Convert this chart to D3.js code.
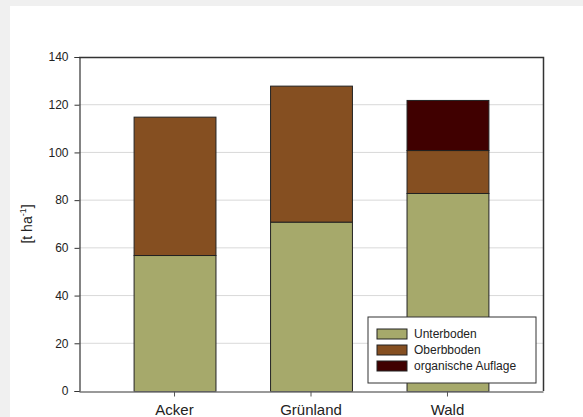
<!DOCTYPE html>
<html>
<head>
<meta charset="utf-8">
<script src="https://cdn.jsdelivr.net/npm/d3@7"></script>
<style>
  body { margin: 0; background: #f0f0f0; }
  svg { display: block; }
</style>
</head>
<body>
<svg id="chart"></svg>
<script>
let width = 583, height = 417;

// data
let categories = ["Acker", "Grünland", "Wald"];
let layers = ["Unterboden", "Oberbboden", "organische Auflage"];
let unterboden = [57, 71, 83];
let oberboden = [58, 57, 18];
let auflage = [0, 0, 21];
let yTicks = [0, 20, 40, 60, 80, 100, 120, 140];

let colors = ["#a6a96b", "#854f21", "#400000"];

let plot = {left: 79, right: 543, top: 57, bottom: 391};

let svg = d3.select("#chart")
  .attr("width", width)
  .attr("height", height)
  .style("font-family", "'Liberation Sans', Arial, sans-serif");

// white panel on grey page
svg.append("rect")
  .attr("x", 10).attr("y", 6)
  .attr("width", width - 10).attr("height", height - 6)
  .attr("fill", "#fff");

let x = d3.scaleBand()
  .domain(categories)
  .range([plot.left, plot.right])
  .paddingInner(0.4)
  .paddingOuter(0.4);

let y = d3.scaleLinear()
  .domain([0, 140])
  .range([plot.bottom, plot.top]);

// grid
svg.append("g")
  .selectAll("line")
  .data(yTicks.filter(d => d > 0 && d < 140))
  .join("line")
  .attr("x1", plot.left).attr("x2", plot.right)
  .attr("y1", d => y(d)).attr("y2", d => y(d))
  .attr("stroke", "#d9d9d9")
  .attr("stroke-width", 1);

// stacked bars
let table = categories.map((c, i) => ({
  cat: c,
  "Unterboden": unterboden[i],
  "Oberbboden": oberboden[i],
  "organische Auflage": auflage[i]
}));
let series = d3.stack().keys(layers)(table);

svg.append("g")
  .selectAll("g")
  .data(series)
  .join("g")
  .attr("fill", (d, i) => colors[i])
  .selectAll("rect")
  .data(d => d.filter(p => p[1] > p[0]))
  .join("rect")
  .attr("x", d => x(d.data.cat) + 0.5)
  .attr("y", d => y(d[1]) + 0.5)
  .attr("width", x.bandwidth())
  .attr("height", d => y(d[0]) - y(d[1]))
  .attr("stroke", "#222")
  .attr("stroke-width", 1);

// frame: top and right
svg.append("path")
  .attr("d", `M${plot.left},${plot.top + 0.5}H${plot.right + 0.5}V${plot.bottom}`)
  .attr("fill", "none")
  .attr("stroke", "#333")
  .attr("stroke-width", 1.5);

// y axis
let yAxis = svg.append("g")
  .attr("transform", `translate(${plot.left + 0.5},0)`)
  .call(d3.axisLeft(y).tickValues(yTicks).tickSize(5).tickPadding(6));
yAxis.select(".domain").attr("stroke", "#333").attr("stroke-width", 1.2);
yAxis.selectAll(".tick line").attr("stroke", "#333");
yAxis.selectAll("text")
  .attr("font-size", 12)
  .attr("font-family", "'Liberation Sans', Arial, sans-serif")
  .attr("fill", "#222");

// x axis
let xAxis = svg.append("g")
  .attr("transform", `translate(0,${plot.bottom + 0.5})`)
  .call(d3.axisBottom(x).tickSize(5).tickSizeOuter(0).tickPadding(8));
xAxis.select(".domain").attr("stroke", "#777").attr("stroke-width", 1.5);
xAxis.selectAll(".tick line").attr("stroke", "#555");
xAxis.selectAll("text")
  .attr("font-size", 15)
  .attr("font-family", "'Liberation Sans', Arial, sans-serif")
  .attr("fill", "#222");

// y label
let ylab = svg.append("text")
  .attr("transform", "translate(32,224) rotate(-90)")
  .attr("text-anchor", "middle")
  .attr("font-size", 14)
  .attr("fill", "#222");
ylab.append("tspan").text("[t ha");
ylab.append("tspan").attr("font-size", 9).attr("dy", -6).text("-1");
ylab.append("tspan").attr("dy", 6).text("]");

// legend
let legend = svg.append("g").attr("transform", "translate(368,317)");
legend.append("rect")
  .attr("width", 168).attr("height", 66)
  .attr("fill", "#fff")
  .attr("stroke", "#333")
  .attr("stroke-width", 1);
let item = legend.selectAll(".item")
  .data(layers)
  .join("g")
  .attr("class", "item")
  .attr("transform", (d, i) => `translate(9,${12 + i * 16})`);
item.append("rect")
  .attr("width", 30).attr("height", 10)
  .attr("fill", (d, i) => colors[i])
  .attr("stroke", "#222");
item.append("text")
  .attr("x", 37).attr("y", 5)
  .attr("dy", "0.35em")
  .attr("font-size", 12)
  .attr("fill", "#222")
  .text(d => d);
</script>
</body>
</html>
